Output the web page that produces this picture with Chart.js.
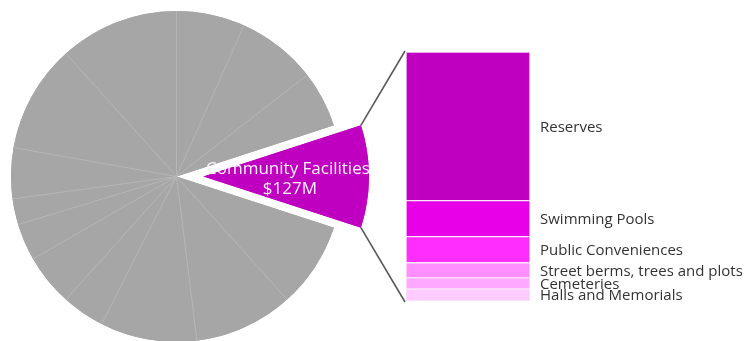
<!DOCTYPE html>
<html>
<head>
<meta charset="utf-8">
<script src="https://cdn.jsdelivr.net/npm/chart.js@4"></script>
<style>
  html, body { margin:0; padding:0; background:#ffffff; }
  #wrap { position:relative; width:744px; height:341px; overflow:hidden; }
  #wrap canvas { position:absolute; }
</style>
</head>
<body>
<div id="wrap">
  <canvas id="pie" width="331" height="331" style="left:11px; top:11px"></canvas>
  <canvas id="slice" width="331" height="331" style="left:38px; top:11px"></canvas>
  <canvas id="bar" width="744" height="341" style="left:0; top:0"></canvas>
</div>
<script>
// All activities ($M), clockwise from 12 o'clock; Community Facilities is pulled out
const pieLabels = ['Other 1', 'Other 2', 'Other 3', 'Community Facilities', 'Other 4', 'Other 5',
                   'Other 6', 'Other 7', 'Other 8', 'Other 9', 'Other 10', 'Other 11', 'Other 12', 'Other 13'];
const pieValues = [85, 99, 70, 127, 106, 123, 120, 53, 64, 46, 32, 63, 134, 148];
const highlightIndex = 3;

// Breakdown of Community Facilities ($M), top of the stack first
const facilityLabels = ['Reserves', 'Swimming Pools', 'Public Conveniences',
                        'Street berms, trees and plots', 'Cemeteries', 'Halls and Memorials'];
const facilityValues = [75.8, 18.4, 13.3, 7.7, 5.7, 6.1];
const facilityColours = ['#C000C0', '#E800E8', '#FF2EFF', '#FF8EFF', '#FFA8FF', '#FFCCFF'];

const GREY = '#A6A6A6';
const PURPLE = '#C000C0';
const CLEAR = 'rgba(0,0,0,0)';
// canvas offsets, must match the inline styles above
const SLICE_POS = { left: 38, top: 11 };   // 27px right of the grey pie: slice sits at 3 o'clock
const LABEL_FONT = '15px "Open Sans", sans-serif';

Chart.defaults.animation = false;
Chart.defaults.plugins.legend.display = false;
Chart.defaults.plugins.tooltip.enabled = false;

// Arcs come out faceted on this renderer, so fill the chosen slices' sectors
// as (full circle ∩ wedge) underneath, and add the thin light slice seams on top.
const roundRim = {
  id: 'roundRim',
  beforeDatasetsDraw(chart, args, opts) {
    const arcs = chart.getDatasetMeta(0).data;
    const { x, y, outerRadius: r } = arcs[0];
    const ctx = chart.ctx;
    ctx.save();
    ctx.beginPath();
    arcs.forEach((arc, i) => {
      if ((i === highlightIndex) !== opts.highlight) return;
      ctx.moveTo(x, y);
      for (let k = 0; k <= 8; k++) {
        const a = arc.startAngle + (arc.endAngle - arc.startAngle) * k / 8;
        ctx.lineTo(x + Math.cos(a) * r * 2, y + Math.sin(a) * r * 2);
      }
      ctx.closePath();
    });
    ctx.clip();
    ctx.beginPath();
    ctx.arc(x, y, r, 0, Math.PI * 2);
    ctx.fillStyle = opts.colour;
    ctx.fill();
    ctx.restore();
  },
  afterDatasetsDraw(chart, args, opts) {
    if (!opts.seams) return;
    const ctx = chart.ctx;
    ctx.save();
    ctx.strokeStyle = opts.seams;
    ctx.lineWidth = 1;
    chart.getDatasetMeta(0).data.forEach((arc, i) => {
      if (i === highlightIndex || i === highlightIndex + 1) return;
      ctx.beginPath();
      ctx.moveTo(arc.x, arc.y);
      ctx.lineTo(arc.x + Math.cos(arc.startAngle) * arc.outerRadius,
                 arc.y + Math.sin(arc.startAngle) * arc.outerRadius);
      ctx.stroke();
    });
    ctx.restore();
  },
};

// 331px canvas with no border gives a ~165px radius
function pieConfig(highlight) {
  const colour = highlight ? PURPLE : GREY;
  return {
    type: 'pie',
    data: {
      labels: pieLabels,
      datasets: [{
        data: pieValues,
        backgroundColor: pieValues.map((_, i) => (i === highlightIndex) === highlight ? colour : CLEAR),
        borderWidth: 0,
      }],
    },
    options: {
      responsive: false,
      plugins: { roundRim: { highlight, colour, seams: highlight ? null : '#B6B6B6' } },
    },
    plugins: [roundRim],
  };
}

// grey pie with a hole where the highlighted slice was
new Chart(document.getElementById('pie'), pieConfig(false));

// the highlighted slice alone, on a canvas shifted right
const sliceChart = new Chart(document.getElementById('slice'), pieConfig(true));

// stacked bar: dataset 0 sits at the bottom, so feed the list reversed
const stackOrder = facilityLabels.map((_, i) => i).reverse();

new Chart(document.getElementById('bar'), {
  type: 'bar',
  data: {
    labels: [''],
    datasets: stackOrder.map(i => ({
      label: facilityLabels[i],
      data: [facilityValues[i]],
      backgroundColor: facilityColours[i],
      borderColor: '#FBE6FB',
      borderWidth: 1,
      borderSkipped: false,
      barPercentage: 1,
      categoryPercentage: 1,
    })),
  },
  options: {
    responsive: false,
    layout: { padding: { left: 406, right: 214, top: 52, bottom: 40 } },
    scales: {
      x: { display: false, stacked: true },
      y: { display: false, stacked: true, min: 0, max: facilityValues.reduce((a, b) => a + b, 0) },
    },
  },
  plugins: [{
    id: 'connectorsAndLabels',
    afterDatasetsDraw(chart) {
      const ctx = chart.ctx;
      const area = chart.chartArea;

      const arc = sliceChart.getDatasetMeta(0).data[highlightIndex];
      const cx = arc.x + SLICE_POS.left;
      const cy = arc.y + SLICE_POS.top;
      const r = arc.outerRadius;
      const mid = (arc.startAngle + arc.endAngle) / 2;

      // lines from the pulled-out slice corners to the top and bottom of the stack
      const top = [cx + Math.cos(arc.startAngle) * r, cy + Math.sin(arc.startAngle) * r];
      const bottom = [cx + Math.cos(arc.endAngle) * r, cy + Math.sin(arc.endAngle) * r];
      ctx.save();
      ctx.strokeStyle = '#5A5A5A';
      ctx.lineWidth = 1.6;
      ctx.beginPath();
      ctx.moveTo(top[0], top[1]);
      ctx.lineTo(area.left - 1, area.top - 1);
      ctx.moveTo(bottom[0], bottom[1]);
      ctx.lineTo(area.left - 1, area.bottom + 1);
      ctx.stroke();

      // slice name and value inside the pulled-out slice
      const lx = cx + Math.cos(mid) * r * 0.51;
      const ly = cy + Math.sin(mid) * r * 0.51;
      ctx.fillStyle = '#FFF4FF';
      ctx.font = '17px "Open Sans", sans-serif';
      ctx.textAlign = 'center';
      ctx.textBaseline = 'middle';
      ctx.fillText(pieLabels[highlightIndex], lx, ly - 7);
      ctx.fillText('$' + pieValues[highlightIndex] + 'M', lx + 2, ly + 13);

      // category names beside each segment
      ctx.fillStyle = '#333333';
      ctx.font = LABEL_FONT;
      ctx.textAlign = 'left';
      chart.data.datasets.forEach((ds, di) => {
        const bar = chart.getDatasetMeta(di).data[0];
        ctx.fillText(ds.label, area.right + 10, (bar.y + bar.base) / 2 + 1);
      });
      ctx.restore();
    },
  }],
});
</script>
</body>
</html>
